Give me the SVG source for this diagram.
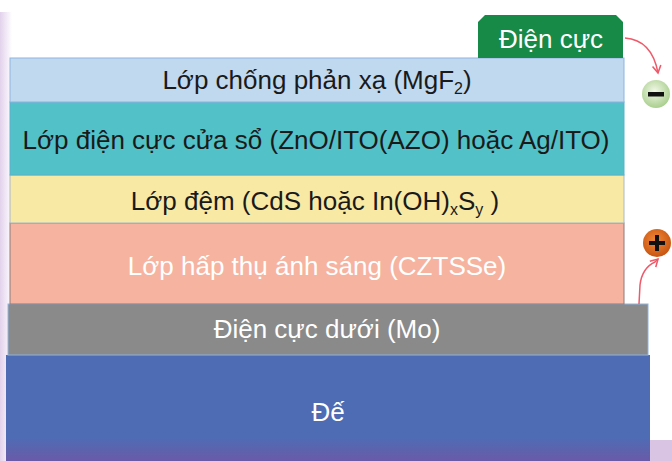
<svg xmlns="http://www.w3.org/2000/svg" width="672" height="461" viewBox="0 0 672 461">
<style>
.t{font-family:"Liberation Sans",Arial,sans-serif;font-size:26px;text-anchor:middle}
.dk{fill:#1a1a1a}
.wh{fill:#ffffff}
.sub{font-size:16px}
</style>
<defs>
<linearGradient id="bg" x1="0" y1="0" x2="0" y2="1">
<stop offset="0.78" stop-color="#4e6cb4"/>
<stop offset="1" stop-color="#6a5aa8"/>
</linearGradient>
<linearGradient id="side" x1="0" y1="0" x2="1" y2="0">
<stop offset="0" stop-color="#e2d2ec"/>
<stop offset="1" stop-color="#ffffff"/>
</linearGradient>
<radialGradient id="minusG" cx="0.45" cy="0.4" r="0.6">
<stop offset="0" stop-color="#f2f8e6"/>
<stop offset="1" stop-color="#a9cf8e"/>
</radialGradient>
<radialGradient id="plusG" cx="0.45" cy="0.4" r="0.6">
<stop offset="0" stop-color="#f08a3a"/>
<stop offset="1" stop-color="#c95510"/>
</radialGradient>
<marker id="ah" viewBox="0 0 10 10" refX="8" refY="5" markerWidth="7" markerHeight="7" orient="auto">
<path d="M1,1 L8,5 L1,9" fill="none" stroke="#ee5a6a" stroke-width="1.5"/>
</marker>
</defs>
<rect x="0" y="0" width="672" height="461" fill="#ffffff"/>
<rect x="0" y="12" width="12" height="449" fill="url(#side)"/>
<rect x="650" y="440" width="22" height="21" fill="#d9c5e3"/>

<g id="layer-substrate">
<rect x="6" y="355" width="644" height="106" fill="url(#bg)"/>
<text class="t wh" x="328" y="421">Đế</text>
</g>
<g id="layer-mo">
<rect x="8" y="304" width="640" height="51" fill="#8a8a8a" stroke="#8fb3df" stroke-width="1"/>
<text class="t wh" x="327" y="338">Điện cực dưới (Mo)</text>
</g>
<g id="layer-czts">
<rect x="10" y="223" width="614" height="81" fill="#f6b3a0" stroke="#8c7a78" stroke-width="1"/>
<text class="t wh" x="317" y="275">Lớp hấp thụ ánh sáng (CZTSSe)</text>
</g>
<g id="layer-buffer">
<rect x="10" y="175" width="614" height="48" fill="#f8e9a4" stroke="#a9b7c8" stroke-width="1"/>
<text class="t dk" x="315" y="210">Lớp đệm (CdS hoặc In(OH)<tspan class="sub" dy="5">x</tspan><tspan dy="-5">S</tspan><tspan class="sub" dy="5">y</tspan><tspan dy="-5"> )</tspan></text>
</g>
<g id="layer-window">
<rect x="10" y="102" width="614" height="73" fill="#52c1c8" stroke="#5bb0cc" stroke-width="1"/>
<text class="t dk" x="316" y="149">Lớp điện cực cửa sổ (ZnO/ITO(AZO) hoặc Ag/ITO)</text>
</g>
<g id="layer-arc">
<rect x="10" y="58" width="614" height="44" fill="#c0d9ef" stroke="#8fb3df" stroke-width="1"/>
<text class="t dk" x="317" y="89">Lớp chống phản xạ (MgF<tspan class="sub" dy="5">2</tspan><tspan dy="-5">)</tspan></text>
</g>
<g id="electrode-tab">
<path d="M478,58 L478,22 L485,15 L616,15 L623,22 L623,58 Z" fill="#178a48"/>
<text class="t wh" x="551" y="48">Điện cực</text>
</g>
<g id="minus">
<circle cx="656" cy="94" r="14" fill="url(#minusG)"/>
<rect x="648" y="92" width="16" height="4.5" fill="#111"/>
</g>
<g id="plus">
<circle cx="657" cy="243" r="14" fill="url(#plusG)"/>
<rect x="649" y="241" width="16" height="4" fill="#111"/>
<rect x="655" y="235" width="4" height="16" fill="#111"/>
</g>
<g id="connectors" fill="none" stroke="#ee5a6a" stroke-width="1.5">
<path d="M625,38 Q652,40 658,73" marker-end="url(#ah)"/>
<path d="M639,304 L640,285 Q642,268 655,262 L658,259" marker-end="url(#ah)"/>
</g>
</svg>
